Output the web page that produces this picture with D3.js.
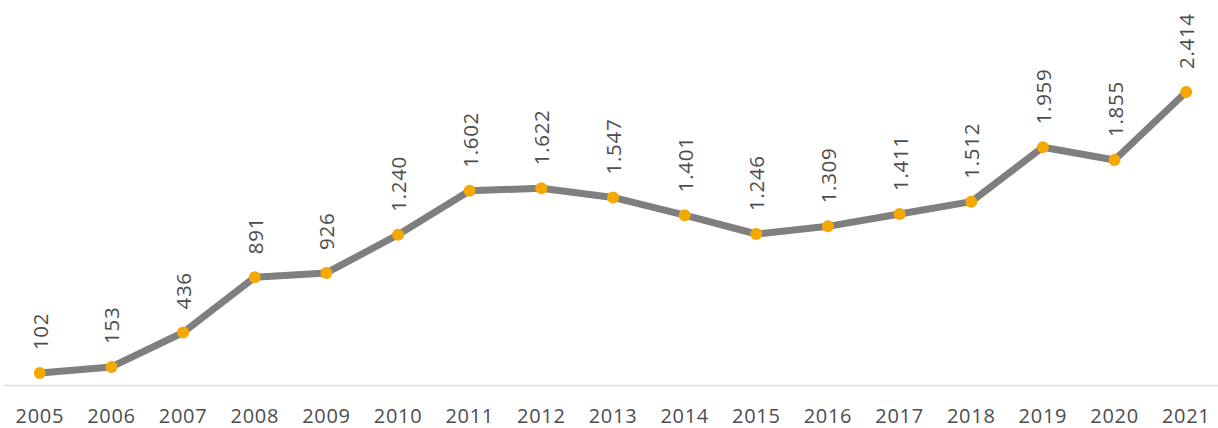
<!DOCTYPE html>
<html>
<head>
<meta charset="utf-8">
<script src="https://cdn.jsdelivr.net/npm/d3@7"></script>
<style>
  html, body { margin: 0; padding: 0; background: #ffffff; }
  svg { display: block; }
  text { font-family: "Open Sans", "Noto Sans", sans-serif; fill: #4d4d4d; }
</style>
</head>
<body>
<svg id="chart" width="1218" height="428"></svg>
<script>
const years = ["2005","2006","2007","2008","2009","2010","2011","2012","2013","2014","2015","2016","2017","2018","2019","2020","2021"];
const values = [102,153,436,891,926,1240,1602,1622,1547,1401,1246,1309,1411,1512,1959,1855,2414];
const valueLabels = ["102","153","436","891","926","1.240","1.602","1.622","1.547","1.401","1.246","1.309","1.411","1.512","1.959","1.855","2.414"];

const svg = d3.select("#chart");

const x = d3.scaleBand().domain(years).range([4, 1222]);
const y = d3.scaleLinear().domain([0, 2414]).range([385.5, 92]);
const cx = d => x(d) + x.bandwidth() / 2;

// baseline axis
svg.append("line")
  .attr("x1", 4).attr("x2", 1218)
  .attr("y1", y(0)).attr("y2", y(0))
  .attr("stroke", "#d9d9d9").attr("stroke-width", 1.3);

// x tick labels
const xAxis = d3.axisBottom(x).tickSize(0).tickPadding(0);
const gx = svg.append("g").attr("transform", `translate(0,${y(0)})`).call(xAxis);
gx.select(".domain").remove();
gx.selectAll("text")
  .attr("y", 37.5).attr("dy", 0)
  .style("font-family", "'Open Sans', sans-serif")
  .style("font-size", "20px")
  .style("letter-spacing", "0.7px")
  .attr("fill", "#4d4d4d");

const pts = years.map((yr, i) => ({ yr, v: values[i], lab: valueLabels[i] }));

// line
svg.append("path")
  .datum(pts)
  .attr("fill", "none")
  .attr("stroke", "#7f7f7f")
  .attr("stroke-width", 7)
  .attr("stroke-linejoin", "round")
  .attr("d", d3.line().x(d => cx(d.yr)).y(d => y(d.v)));

// markers
svg.selectAll("circle.pt")
  .data(pts).enter().append("circle")
  .attr("class", "pt")
  .attr("cx", d => cx(d.yr))
  .attr("cy", d => y(d.v))
  .attr("r", 6)
  .attr("fill", "#f5a800");

// value labels (rotated)
svg.selectAll("text.val")
  .data(pts).enter().append("text")
  .attr("class", "val")
  .attr("transform", d => `translate(${cx(d.yr)},${y(d.v) - 23}) rotate(-90)`)
  .attr("text-anchor", "start")
  .attr("dominant-baseline", "central")
  .style("font-size", "20.5px")
  .style("letter-spacing", "0.7px")
  .text(d => d.lab);
</script>
</body>
</html>
